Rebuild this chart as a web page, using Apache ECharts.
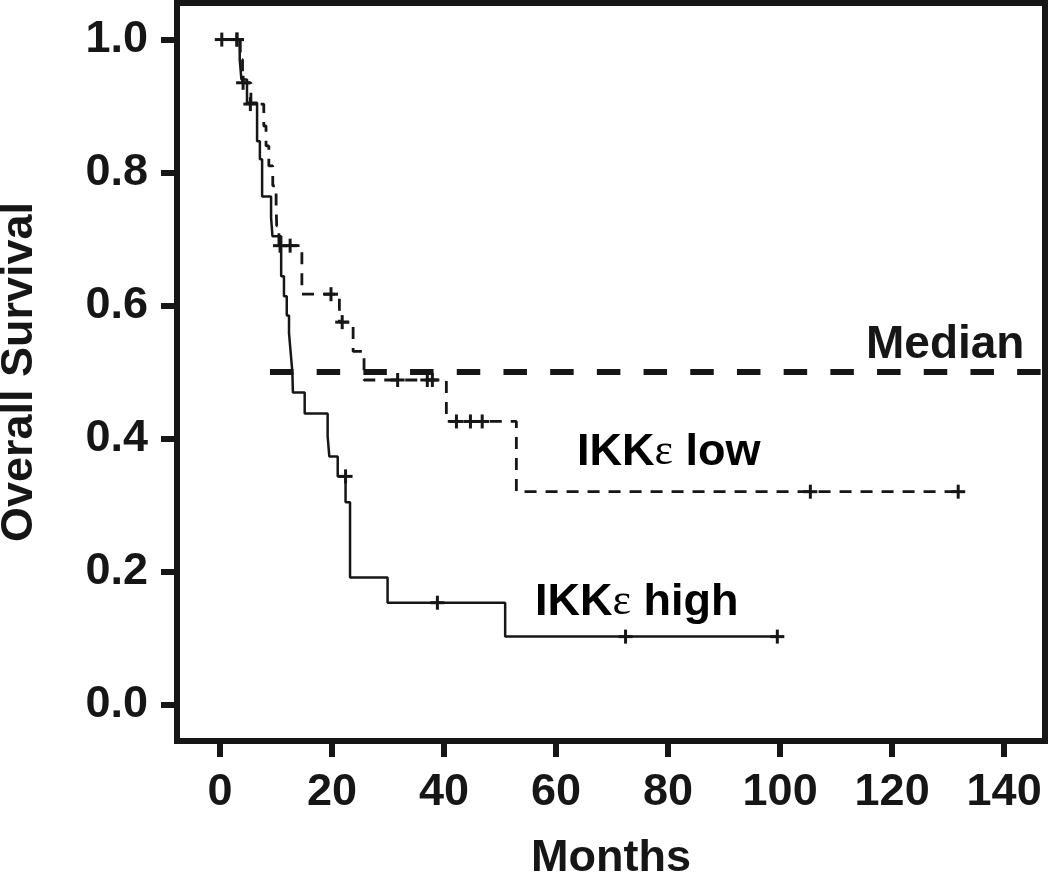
<!DOCTYPE html>
<html>
<head>
<meta charset="utf-8">
<script src="https://cdn.jsdelivr.net/npm/echarts@6/dist/echarts.min.js"></script>
<style>
html,body{margin:0;padding:0;background:#fff;}
#chart{width:1050px;height:877px;}
</style>
</head>
<body>
<div id="chart"></div>
<script>
// Tick values
const xTicks = [0, 20, 40, 60, 80, 100, 120, 140];
const yTicks = [0, 0.2, 0.4, 0.6, 0.8, 1.0];

// IKKε high (solid): [month, survival] after each event
const highSteps = [
  [0, 1.0], [3.5, 0.97], [3.8, 0.94], [4.8, 0.905], [6.6, 0.847], [7.1, 0.82],
  [7.5, 0.764], [9.1, 0.732], [9.35, 0.704], [10.9, 0.644], [11.4, 0.614],
  [11.9, 0.585], [12.3, 0.559], [12.6, 0.529], [12.9, 0.50], [13.0, 0.469],
  [15.1, 0.4376], [19.2, 0.403], [19.5, 0.373], [21.0, 0.343], [22.4, 0.304],
  [23.2, 0.191], [29.9, 0.153], [50.9, 0.102], [99.5, 0.102]
];
const highCensored = [
  [3.0, 1.0], [4.1, 0.935], [22.4, 0.343], [38.8, 0.153], [72.4, 0.102], [99.5, 0.102]
];

// IKKε low (dashed)
const lowSteps = [
  [0, 1.0], [3.6, 0.97], [4.0, 0.935], [5.5, 0.903], [7.8, 0.87], [8.2, 0.84],
  [8.7, 0.81], [9.4, 0.78], [10.0, 0.75], [10.1, 0.72], [10.5, 0.69],
  [14.6, 0.617], [21.3, 0.575], [23.75, 0.531], [25.7, 0.488], [40.4, 0.4256],
  [52.9, 0.32], [131.8, 0.32]
];
const lowCensored = [
  [0.3, 1.0], [3.0, 1.0], [5.4, 0.903], [10.7, 0.69], [12.5, 0.69], [19.8, 0.617],
  [21.8, 0.575], [31.7, 0.488], [37.0, 0.488], [37.9, 0.488], [42.2, 0.4256],
  [44.7, 0.4256], [46.8, 0.4256], [105.4, 0.32], [131.8, 0.32]
];

// Median reference line
const medianValue = 0.5;
const medianSpan = [8.9, 147.3];

const INK = '#161616';
const FONT = '"Liberation Sans", Arial, Helvetica, sans-serif';

function censorSeries(name, data) {
  return {
    name: name,
    type: 'custom',
    data: data,
    clip: false,
    z: 5,
    encode: { x: 0, y: 1 },
    renderItem: function (params, api) {
      const p = api.coord([api.value(0), api.value(1)]);
      const h = 7;
      return {
        type: 'group',
        children: [
          { type: 'line', shape: { x1: p[0] - h, y1: p[1], x2: p[0] + h, y2: p[1] }, style: { stroke: INK, lineWidth: 3 } },
          { type: 'line', shape: { x1: p[0], y1: p[1] - h, x2: p[0], y2: p[1] + h }, style: { stroke: INK, lineWidth: 3 } }
        ]
      };
    }
  };
}

const chart = echarts.init(document.getElementById('chart'), null, { renderer: 'canvas' });
const labelStyle = { fontSize: 45, fontWeight: 'bold', fontFamily: FONT, color: INK };

chart.setOption({
  animation: false,
  backgroundColor: '#ffffff',
  grid: {
    left: 177, top: 3, right: 5, bottom: 136,
    containLabel: false, outerBoundsMode: 'none',
    show: true, borderColor: INK, borderWidth: 6, backgroundColor: 'transparent'
  },
  xAxis: {
    type: 'value', min: -7.7, max: 147.3, position: 'bottom',
    axisLine: { show: false, onZero: false },
    splitLine: { show: false },
    axisTick: { show: true, inside: false, length: 16, lineStyle: { width: 6, color: INK }, customValues: xTicks },
    axisLabel: Object.assign({ margin: 29, customValues: xTicks }, labelStyle),
    name: 'Months', nameLocation: 'middle', nameGap: 95,
    nameTextStyle: Object.assign({}, labelStyle)
  },
  yAxis: {
    type: 'value', min: -0.055, max: 1.055, position: 'left',
    axisLine: { show: false, onZero: false },
    splitLine: { show: false },
    axisTick: { show: true, inside: false, length: 16, lineStyle: { width: 6, color: INK }, customValues: yTicks },
    axisLabel: Object.assign({ margin: 29, customValues: yTicks, formatter: function (v) { return v.toFixed(1); } }, labelStyle),
    name: 'Overall Survival', nameLocation: 'middle', nameGap: 135,
    nameTextStyle: Object.assign({}, labelStyle)
  },
  series: [
    {
      name: 'Median', type: 'line', symbol: 'none', z: 3,
      data: [[medianSpan[0], medianValue], [medianSpan[1], medianValue]],
      lineStyle: { color: INK, width: 6, type: [23.5, 23.2] }
    },
    {
      name: 'IKKε high', type: 'line', step: 'end', symbol: 'none', z: 4,
      data: highSteps,
      lineStyle: { color: INK, width: 2.5, type: 'solid' }
    },
    {
      name: 'IKKε low', type: 'line', step: 'end', symbol: 'none', z: 4,
      data: lowSteps,
      lineStyle: { color: INK, width: 2.8, type: [12, 9] }
    },
    censorSeries('high censored', highCensored),
    censorSeries('low censored', lowCensored)
  ],
  graphic: [
    { type: 'text', left: 866, top: 322, style: { text: 'Median', font: 'bold 46px ' + FONT, fill: INK } },
    { type: 'text', left: 577, top: 430, style: {
        text: '{a|IKK}{e|ε}{a| low}',
        rich: { a: { fontSize: 45, fontWeight: 'bold', fontFamily: FONT, color: INK }, e: { fontSize: 44, fontFamily: '"Liberation Serif", "DejaVu Serif", serif', color: INK } }
    } },
    { type: 'text', left: 535, top: 580, style: {
        text: '{a|IKK}{e|ε}{a| high}',
        rich: { a: { fontSize: 45, fontWeight: 'bold', fontFamily: FONT, color: INK }, e: { fontSize: 44, fontFamily: '"Liberation Serif", "DejaVu Serif", serif', color: INK } }
    } }
  ]
});
</script>
</body>
</html>
